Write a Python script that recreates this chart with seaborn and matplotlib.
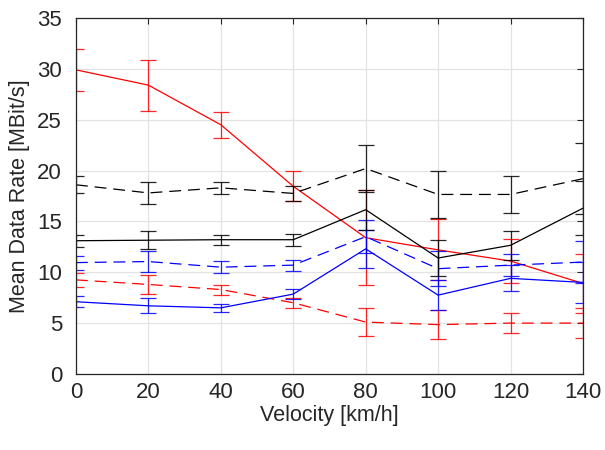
import matplotlib
matplotlib.use('Agg')
import matplotlib.pyplot as plt
import seaborn as sns
import pandas as pd

# velocity points [km/h]
velocity = [0, 20, 40, 60, 80, 100, 120, 140]

# mean data rates and error half-widths [MBit/s]
red_solid = [29.9, 28.4, 24.5, 18.45, 13.4, 12.2, 11.1, 8.9]
red_solid_err = [2.1, 2.5, 1.3, 1.47, 4.7, 3.0, 2.2, 2.9]

red_dashed = [9.25, 8.8, 8.3, 7.0, 5.1, 4.85, 5.0, 5.0]
red_dashed_err = [0.69, 0.91, 0.49, 0.5, 1.37, 1.44, 0.96, 1.5]

blue_solid = [7.1, 6.7, 6.5, 7.85, 12.3, 7.75, 9.4, 9.0]
blue_solid_err = [0.52, 0.74, 0.38, 0.47, 1.9, 1.5, 1.27, 2.0]

blue_dashed = [10.95, 11.05, 10.5, 10.7, 13.5, 10.35, 10.7, 11.0]
blue_dashed_err = [0.69, 1.0, 0.59, 0.55, 1.6, 1.7, 1.05, 2.1]

black_solid = [13.1, 13.15, 13.2, 13.2, 16.15, 11.4, 12.65, 16.3]
black_solid_err = [0.57, 0.91, 0.5, 0.6, 1.95, 1.8, 1.4, 2.65]

black_dashed = [18.6, 17.8, 18.3, 17.75, 20.2, 17.65, 17.65, 19.2]
black_dashed_err = [0.85, 1.06, 0.6, 0.77, 2.3, 2.35, 1.85, 3.5]

series = [
    ('red_solid', red_solid, red_solid_err, 'red', False),
    ('red_dashed', red_dashed, red_dashed_err, 'red', True),
    ('blue_solid', blue_solid, blue_solid_err, 'blue', False),
    ('blue_dashed', blue_dashed, blue_dashed_err, 'blue', True),
    ('black_solid', black_solid, black_solid_err, 'black', False),
    ('black_dashed', black_dashed, black_dashed_err, 'black', True),
]

sns.set_style('whitegrid')
plt.rcParams['font.family'] = ['Liberation Sans', 'DejaVu Sans']

fig = plt.figure(figsize=(6.05, 4.5), dpi=100)
ax = fig.add_axes([0.1256, 0.169, 0.838, 0.791])

dash = (0, (9.5, 5.5))
for name, vals, errs, color, dashed in series:
    df = pd.DataFrame({'v': velocity, 'rate': vals})
    ls = dash if dashed else '-'
    # error bars first, then the line on top
    ax.errorbar(velocity, vals, yerr=errs, fmt='none', ecolor=color,
                elinewidth=0.9, capsize=6, capthick=0.9, alpha=0.85)
    sns.lineplot(data=df, x='v', y='rate', ax=ax, color=color,
                 linewidth=0.9, linestyle=ls)

ax.set_xlim(0, 140)
ax.set_ylim(0, 35)
ax.set_xticks(velocity)
ax.set_yticks(range(0, 36, 5))
ax.set_xlabel('Velocity [km/h]', fontsize=15.5, labelpad=1)
ax.set_ylabel('Mean Data Rate [MBit/s]', fontsize=15.5, labelpad=5)

ax.grid(True, color='#e3e3e3', linewidth=0.9)
ax.tick_params(direction='in', length=4, width=0.8, labelsize=16,
               top=True, right=True, colors='#262626')
ax.tick_params(axis='y', pad=10)
ax.tick_params(axis='x', pad=6)
for s in ax.spines.values():
    s.set_visible(True)
    s.set_color('#262626')
    s.set_linewidth(0.9)
ax.xaxis.label.set_color('#262626')
ax.yaxis.label.set_color('#262626')

fig.savefig('out.png', dpi=100)
